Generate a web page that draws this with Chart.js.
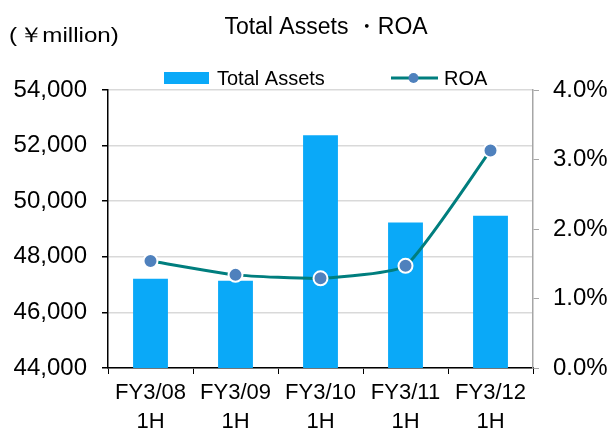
<!DOCTYPE html>
<html>
<head>
<meta charset="utf-8">
<script src="https://cdn.jsdelivr.net/npm/chart.js@4"></script>
<style>
html,body{margin:0;padding:0;background:#fff;}
#wrap{width:611px;height:433px;position:relative;}
</style>
</head>
<body>
<div id="wrap"><canvas id="c" width="611" height="433"></canvas></div>
<script>
const categories = [['FY3/08','1H'],['FY3/09','1H'],['FY3/10','1H'],['FY3/11','1H'],['FY3/12','1H']];
const totalAssets = [47210, 47140, 52370, 49230, 49480];
const roa = [1.54, 1.34, 1.29, 1.47, 3.13];
const leftTicks = [44000, 46000, 48000, 50000, 52000, 54000];
const rightTicks = [0, 1, 2, 3, 4];
const titleText = 'Total Assets \u30FBROA';
const unitParts = ['(', '\uFFE5', 'million)'];
const seriesNames = ['Total Assets', 'ROA'];

const FONT = "'Liberation Sans', Arial, sans-serif";
const BAR_COLOR = '#0AA9F8';
const LINE_COLOR = '#007E7E';
const POINT_COLOR = '#4F81BD';

const decor = {
  id: 'decor',
  afterDraw(chart) {
    const ctx = chart.ctx;
    ctx.save();
    ctx.fillStyle = '#000';
    ctx.textBaseline = 'alphabetic';
    ctx.font = '23px ' + FONT;
    ctx.textAlign = 'center';
    ctx.fillText(titleText, 326, 34);
    ctx.textAlign = 'left';
    ctx.font = '21px ' + FONT;
    ctx.save();
    ctx.translate(9, 42);
    ctx.scale(1.15, 1);
    ctx.fillText(unitParts[0], 0, 0);
    ctx.fillText(unitParts[1], 9, 0);
    ctx.fillText(unitParts[2], 29, 0);
    ctx.restore();
    // legend
    ctx.font = '20px ' + FONT;
    ctx.fillStyle = BAR_COLOR;
    ctx.fillRect(164, 72, 45, 12);
    ctx.fillStyle = '#000';
    ctx.fillText(seriesNames[0], 217, 85);
    ctx.strokeStyle = LINE_COLOR;
    ctx.lineWidth = 3;
    ctx.beginPath();
    ctx.moveTo(391, 78);
    ctx.lineTo(438, 78);
    ctx.stroke();
    ctx.fillStyle = POINT_COLOR;
    ctx.beginPath();
    ctx.arc(413.5, 78, 5, 0, Math.PI * 2);
    ctx.fill();
    ctx.fillStyle = '#000';
    ctx.fillText(seriesNames[1], 444, 85);
    ctx.restore();
  }
};

new Chart(document.getElementById('c'), {
  type: 'bar',
  data: {
    labels: categories,
    datasets: [
      {
        type: 'line',
        label: seriesNames[1],
        data: roa,
        yAxisID: 'y1',
        borderColor: LINE_COLOR,
        borderWidth: 3,
        tension: 0.15,
        pointRadius: 7,
        pointBackgroundColor: POINT_COLOR,
        pointBorderColor: '#fff',
        pointBorderWidth: 2,
        order: 0,
        clip: false
      },
      {
        type: 'bar',
        label: seriesNames[0],
        data: totalAssets,
        yAxisID: 'y',
        backgroundColor: BAR_COLOR,
        barPercentage: 0.41,
        categoryPercentage: 1.0,
        order: 1
      }
    ]
  },
  options: {
    responsive: false,
    animation: false,
    events: [],
    layout: { padding: { top: 90, left: 0, right: 0, bottom: 0 } },
    plugins: { legend: { display: false }, title: { display: false }, tooltip: { enabled: false } },
    scales: {
      x: {
        offset: true,
        grid: { offset: true, drawOnChartArea: false, drawTicks: true, tickLength: 6, color: '#000', tickColor: '#000' },
        border: { color: '#000', width: 1.5 },
        ticks: { color: '#000', font: { family: FONT, size: 22, lineHeight: 1.32 }, padding: 4, maxRotation: 0, autoSkip: false },
        afterFit(s) { s.height = 433 - 368; }
      },
      y: {
        position: 'left',
        min: 44000, max: 54000,
        afterBuildTicks(s) { s.ticks = leftTicks.map(v => ({ value: v })); },
        grid: { color: '#D9D9D9', lineWidth: 1.5, tickColor: '#000', tickLength: 6, drawTicks: true },
        border: { color: '#000', width: 1.5 },
        ticks: { color: '#000', font: { family: FONT, size: 24 }, padding: 15, callback: v => v.toLocaleString('en-US') },
        afterFit(s) { s.width = 108; }
      },
      y1: {
        position: 'right',
        min: 0, max: 4,
        afterBuildTicks(s) { s.ticks = rightTicks.map(v => ({ value: v })); },
        grid: { drawOnChartArea: false, color: '#A6A6A6', tickColor: '#A6A6A6', tickLength: 6 },
        border: { color: '#A6A6A6', width: 1.5 },
        ticks: { color: '#000', font: { family: FONT, size: 24 }, padding: 14, callback: v => v.toFixed(1) + '%' },
        afterFit(s) { s.width = 611 - 533; }
      }
    }
  },
  plugins: [decor]
});
</script>
</body>
</html>
